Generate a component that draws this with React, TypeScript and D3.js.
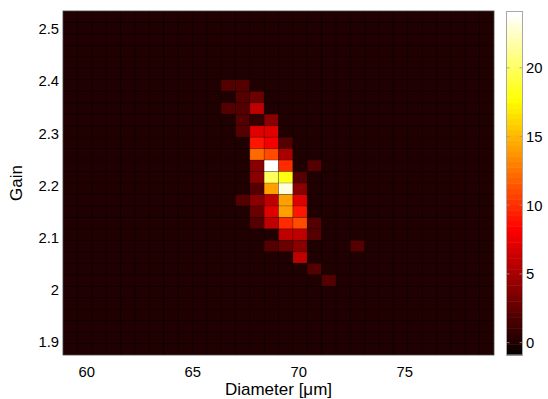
import * as d3 from 'd3';
import React, { FC, useEffect, useRef } from 'react';

// histogram grid: 30 x 30 bins
const nBins = 30;
const diameterRange = [58.88, 79.21];
const gainRange = [1.875, 2.5345];
const colorRange = [-0.9, 24.1];

const xTicks = [60, 65, 70, 75];
const yTicks = [1.9, 2, 2.1, 2.2, 2.3, 2.4, 2.5];
const colorTicks = [0, 5, 10, 15, 20];

// non-empty bins: [row from top, column from left, count]
const filledBins: [number, number, number][] = [
	[6, 11, 2], [6, 12, 2],
	[7, 12, 2], [7, 13, 3],
	[8, 11, 2], [8, 12, 2], [8, 13, 6],
	[9, 12, 2], [9, 13, 1], [9, 14, 4],
	[10, 12, 2], [10, 13, 7], [10, 14, 7],
	[11, 13, 9], [11, 14, 8], [11, 15, 2],
	[12, 13, 12], [12, 14, 11], [12, 15, 5],
	[13, 13, 4], [13, 14, 24], [13, 15, 10], [13, 17, 2],
	[14, 13, 4], [14, 14, 20], [14, 15, 18], [14, 16, 2],
	[15, 13, 2], [15, 14, 14], [15, 15, 23], [15, 16, 4],
	[16, 12, 2], [16, 13, 4], [16, 14, 6], [16, 15, 14], [16, 16, 7],
	[17, 13, 3], [17, 14, 7], [17, 15, 14], [17, 16, 9],
	[18, 13, 2], [18, 14, 6], [18, 15, 10], [18, 16, 11], [18, 17, 2],
	[19, 15, 6], [19, 16, 6], [19, 17, 2],
	[20, 14, 2], [20, 15, 3], [20, 16, 4], [20, 20, 2],
	[21, 16, 6],
	[22, 17, 2],
	[23, 18, 2],
];

// matlab style hot(64)
const hot = (v: number) => {
	const f = (v - colorRange[0]) / (colorRange[1] - colorRange[0]);
	const k = Math.max(0, Math.min(63, Math.floor(f * 64)));
	const c = (t: number) => Math.round(255 * Math.max(0, Math.min(1, t)));
	return d3.rgb(c((k + 1) / 24), c((k + 1 - 24) / 24), c((k + 1 - 48) / 16)).formatHex();
};

const HeatmapD3: FC = () => {
	const containerDiv = useRef<HTMLDivElement>(null);
	const { width, height } = { width: 548, height: 399 };
	const margin = { top: 11, right: 54, bottom: 44, left: 63 };
	const font = '"Liberation Sans", Arial, sans-serif';
	const tickSize = 14.8;
	const labelSize = 17;

	useEffect(() => {
		const grid: number[][] = d3.range(nBins).map(() => d3.range(nBins).map(() => 0));
		filledBins.forEach(([r, c, n]) => {
			grid[r][c] = n;
		});

		const x = d3
			.scaleLinear()
			.domain(diameterRange)
			.range([margin.left, width - margin.right]);
		const y = d3
			.scaleLinear()
			.domain(gainRange)
			.range([height - margin.bottom, margin.top]);
		const xBin = d3.scaleBand<number>().domain(d3.range(nBins)).range([margin.left, width - margin.right]);
		const yBin = d3.scaleBand<number>().domain(d3.range(nBins)).range([margin.top, height - margin.bottom]);

		const svg = d3
			.create('svg')
			.attr('width', width)
			.attr('height', height)
			.style('display', 'block')
			.style('font-family', font);

		svg.append('rect').attr('width', width).attr('height', height).attr('fill', '#fff');
		// dark underlay so seams between cells stay dark
		svg.append('rect')
			.attr('x', margin.left)
			.attr('y', margin.top)
			.attr('width', width - margin.right - margin.left)
			.attr('height', height - margin.bottom - margin.top)
			.attr('fill', '#000');

		const cells = grid.flatMap((row, r) => row.map((n, c) => ({ r, c, n })));
		svg.append('g')
			.selectAll('rect')
			.data(cells)
			.join('rect')
			.attr('x', d => xBin(d.c) as number)
			.attr('y', d => yBin(d.r) as number)
			.attr('width', xBin.bandwidth())
			.attr('height', yBin.bandwidth())
			.attr('fill', d => hot(d.n));

		// faint cell edges
		const edges = svg.append('g').attr('stroke', '#000').attr('stroke-opacity', 0.3).attr('stroke-width', 0.8);
		d3.range(1, nBins).forEach(i => {
			const xe = xBin(i) as number;
			const ye = yBin(i) as number;
			edges.append('line').attr('x1', xe).attr('x2', xe).attr('y1', margin.top).attr('y2', height - margin.bottom);
			edges.append('line').attr('x1', margin.left).attr('x2', width - margin.right).attr('y1', ye).attr('y2', ye);
		});

		svg.append('rect')
			.attr('x', margin.left)
			.attr('y', margin.top)
			.attr('width', width - margin.right - margin.left)
			.attr('height', height - margin.bottom - margin.top)
			.attr('fill', 'none')
			.attr('stroke', '#444')
			.attr('stroke-width', 0.8);

		svg.append('g')
			.selectAll('text')
			.data(xTicks)
			.join('text')
			.attr('x', d => x(d))
			.attr('y', 377)
			.attr('text-anchor', 'middle')
			.attr('font-size', tickSize)
			.text(d => d);

		svg.append('g')
			.selectAll('text')
			.data(yTicks)
			.join('text')
			.attr('x', 59)
			.attr('y', d => y(d) + 5.3)
			.attr('text-anchor', 'end')
			.attr('font-size', tickSize)
			.text(d => d);

		svg.append('text')
			.attr('x', (margin.left + width - margin.right) / 2)
			.attr('y', 395)
			.attr('text-anchor', 'middle')
			.attr('font-size', labelSize)
			.text('Diameter [μm]');

		svg.append('text')
			.attr('transform', `translate(22,${(margin.top + height - margin.bottom) / 2}) rotate(-90)`)
			.attr('text-anchor', 'middle')
			.attr('font-size', labelSize)
			.text('Gain');

		// colorbar
		const cb = { x0: 506.5, x1: 522.5, top: 11.5, bottom: 355 };
		const cy = d3.scaleLinear().domain(colorRange).range([cb.bottom, cb.top]);
		const steps = d3.range(64);
		const stepH = (cb.bottom - cb.top) / 64;
		svg.append('g')
			.selectAll('rect')
			.data(steps)
			.join('rect')
			.attr('x', cb.x0)
			.attr('y', k => cb.bottom - (k + 1) * stepH)
			.attr('width', cb.x1 - cb.x0)
			.attr('height', stepH + 0.5)
			.attr('fill', k => hot(colorRange[0] + ((k + 0.5) / 64) * (colorRange[1] - colorRange[0])));

		svg.append('rect')
			.attr('x', cb.x0)
			.attr('y', cb.top)
			.attr('width', cb.x1 - cb.x0)
			.attr('height', cb.bottom - cb.top)
			.attr('fill', 'none')
			.attr('stroke', '#a8a8a8')
			.attr('stroke-width', 1);

		const cbTicks = svg.append('g').attr('stroke', '#999').attr('stroke-width', 0.8);
		colorTicks.forEach(t => {
			cbTicks.append('line').attr('x1', cb.x0).attr('x2', cb.x0 + 3).attr('y1', cy(t)).attr('y2', cy(t));
			cbTicks.append('line').attr('x1', cb.x1 - 3).attr('x2', cb.x1).attr('y1', cy(t)).attr('y2', cy(t));
		});

		svg.append('g')
			.selectAll('text')
			.data(colorTicks)
			.join('text')
			.attr('x', 526)
			.attr('y', d => cy(d) + 5.3)
			.attr('font-size', tickSize)
			.text(d => d);

		const container = containerDiv.current as HTMLDivElement;
		const node = svg.node();
		if (container && node) {
			container.firstChild && container.removeChild(container.firstChild);
			container.appendChild(node);
		}
	}, []);

	return <div ref={containerDiv}></div>;
};

export default function App() {
	return (
		<div style={{ position: 'absolute', left: 0, top: 0 }}>
			<HeatmapD3 />
		</div>
	);
}
